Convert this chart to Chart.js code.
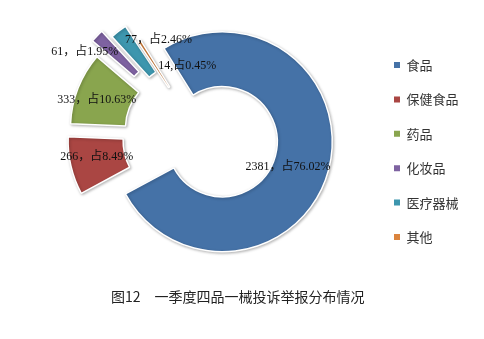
<!DOCTYPE html>
<html><head><meta charset="utf-8">
<script src="https://cdn.jsdelivr.net/npm/chart.js@4.4.1/dist/chart.umd.min.js"></script>
<style>html,body{margin:0;padding:0;background:#fff;} canvas{display:block;}</style>
</head><body>
<canvas id="c" width="484" height="339"></canvas>
<script>
// ---- data ----
const categories = ['食品', '保健食品', '药品', '化妆品', '医疗器械', '其他'];
const counts = [2381, 266, 333, 61, 77, 14];
const shares = ['76.02%', '8.49%', '10.63%', '1.95%', '2.46%', '0.45%'];
const separators = ['，', '，', '，', '，', '，', ','];
const titleText = '图12　一季度四品一械投诉举报分布情况';

// ---- styles ----
const colors = ['#4572A7', '#AA4643', '#89A54E', '#7E62A1', '#3D96AE', '#DB843D'];
const explode = [22.5, 23, 21.5, 34, 23, 3];          // px each slice is pulled out
const labelNudge = [[-14, 4], [-1, -3], [-7, 2], [-32, -3], [23, -13], [33, 2]];

const explodePlugin = {
  id: 'explode',
  beforeDatasetsDraw(chart) {
    const meta = chart.getDatasetMeta(0);
    const ca = chart.chartArea;
    const cx = (ca.left + ca.right) / 2, cy = (ca.top + ca.bottom) / 2;
    meta.data.forEach((arc, i) => {
      const half = (arc.startAngle + arc.endAngle) / 2;
      arc.x = cx + Math.cos(half) * explode[i];
      arc.y = cy + Math.sin(half) * explode[i];
    });
    const ctx = chart.ctx;
    ctx.save();
    ctx.shadowColor = 'rgba(0,0,0,0.28)';
    ctx.shadowBlur = 3;
    ctx.shadowOffsetX = 1;
    ctx.shadowOffsetY = 1;
  },
  afterDatasetsDraw(chart) {
    const ctx = chart.ctx;
    ctx.restore();
    const meta = chart.getDatasetMeta(0);
    ctx.save();
    ctx.font = '12px "Liberation Serif", "Noto Sans CJK SC", serif';
    ctx.fillStyle = '#111';
    ctx.textAlign = 'center';
    ctx.textBaseline = 'middle';
    meta.data.forEach((arc, i) => {
      const p = arc.getCenterPoint();
      const txt = counts[i] + separators[i] + '占' + shares[i];
      ctx.fillText(txt, p.x + labelNudge[i][0], p.y + labelNudge[i][1]);
    });
    ctx.restore();
  }
};

new Chart(document.getElementById('c'), {
  type: 'doughnut',
  data: {
    labels: categories,
    datasets: [{
      data: counts,
      backgroundColor: colors,
      borderColor: '#ffffff',
      borderWidth: 1.5,
      hoverOffset: 0
    }]
  },
  options: {
    responsive: false,
    animation: false,
    devicePixelRatio: 1,
    rotation: -32,
    cutout: '50%',
    radius: 110,
    layout: { padding: { left: 7, right: 15.5, top: 0, bottom: 15.6 } },
    plugins: {
      tooltip: { enabled: false },
      legend: {
        position: 'right',
        labels: {
          boxWidth: 6,
          boxHeight: 6,
          padding: 0,
          color: '#333',
          font: { family: '"Noto Sans CJK SC", sans-serif', size: 13, lineHeight: 34.4 / 13 },
          generateLabels(chart) {
            const items = Chart.overrides.doughnut.plugins.legend.labels.generateLabels(chart);
            items.forEach(it => {
              it.lineWidth = 0;
              it.strokeStyle = 'rgba(0,0,0,0)';
              it.text = [it.text];   // one line, spaced by the font line height
            });
            return items;
          }
        }
      },
      title: {
        display: true,
        position: 'bottom',
        text: titleText,
        color: '#222',
        font: { family: '"Noto Sans CJK SC", sans-serif', size: 14, weight: 'normal' },
        padding: { top: 16.6, bottom: 18 }
      }
    }
  },
  plugins: [explodePlugin]
});
</script>
</body></html>
